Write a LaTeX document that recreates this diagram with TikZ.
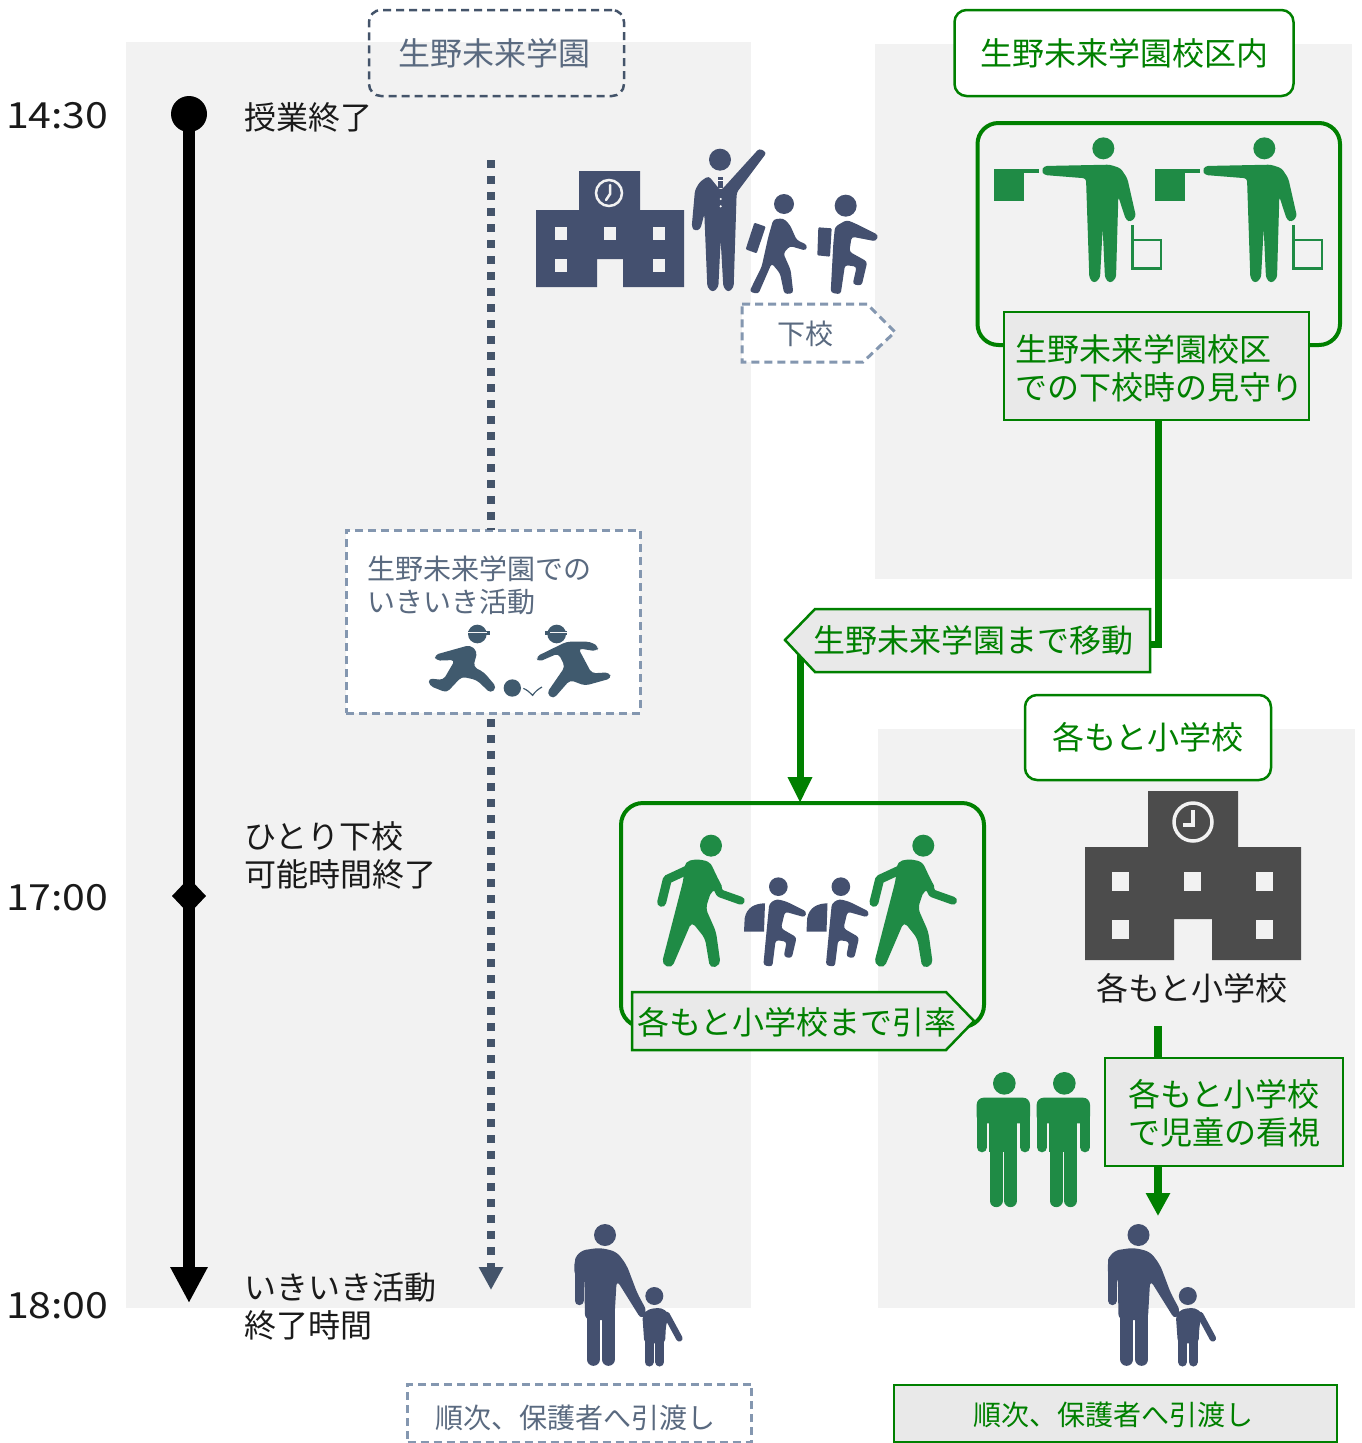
\documentclass[tikz,border=0pt]{standalone}
\usepackage{fontspec}
\setmainfont{Noto Sans CJK JP}
\newfontfamily\timefont[FakeStretch=1.14]{Noto Sans CJK JP}
\usetikzlibrary{arrows.meta,shapes.geometric}
\definecolor{panel}{HTML}{F2F2F2}
\definecolor{navy}{HTML}{44546A}
\definecolor{navytext}{HTML}{5A6A80}
\definecolor{dashc}{HTML}{8497B0}
\definecolor{gr}{HTML}{008000}
\definecolor{figgreen}{HTML}{1F8B45}
\definecolor{figblue}{HTML}{44506F}
\definecolor{kick}{HTML}{405A6E}
\definecolor{lab}{HTML}{E9E9E9}
\definecolor{inkk}{HTML}{1A1A1A}
\tikzset{
  every node/.style={inner sep=0pt,outer sep=0pt},
  lim/.style={line cap=round,line join=round},
  t32/.style={font=\fontsize{32}{38}\selectfont},
  t28/.style={font=\fontsize{28}{33}\selectfont},
  ttime/.style={font=\timefont\fontsize{36}{40}\selectfont,text=inkk,anchor=west},
  blk/.style={t32,text=inkk,align=left,anchor=west},
  dashbox/.style={draw=dashc,line width=3pt,dash pattern=on 8pt off 5pt},
  gline/.style={draw=gr,line width=7pt},
  grntext/.style={text=gr},
  navyt/.style={text=navytext}
}
\newcommand{\figFlag}[2]{\begin{scope}[shift={(#1,#2)},scale=0.33333]
 \fill[figgreen] (400,115) circle (33);
 \fill[figgreen,rounded corners=3pt] (215,182)--(222,168)--(420,164)--(452,175)--(472,205)--(498,320)--(482,336)--(468,330)--(445,260)--(438,505)--(420,520)--(405,505)--(398,355)--(390,505)--(372,520)--(358,505)--(348,205)--(222,195)--cycle;
 \fill[figgreen] (73,178) rectangle (163,272);
 \fill[figgreen] (163,178) rectangle (208,188);
 \draw[figgreen,line width=2.5pt] (487,345)--(487,475)--(573,475)--(573,390)--(487,390);
\end{scope}}
\newcommand{\figWalker}[2]{\begin{scope}[shift={(#1,#2)},scale=0.33333]
 \fill[figgreen] (303,167) circle (33);
 \draw[figgreen,lim,line width=9pt] (258,228)--(172,268)--(155,337);
 \draw[figgreen,lim,line width=8pt] (290,232)--(330,310)--(392,332);
 \fill[figgreen,rounded corners=5pt] (225,215)--(260,207)--(300,215)--(322,262)--(342,300)--(305,300)--(287,355)--(318,425)--(332,525)--(300,535)--(285,445)--(245,395)--(185,535)--(155,522)--(220,270)--cycle;
\end{scope}}
\newcommand{\figPack}[2]{\begin{scope}[shift={(#1,#2)},scale=0.33333]
 \fill[figblue] (505,290) circle (28);
 \fill[figblue] (402,425)--(404,385) .. controls (410,352) and (435,340) .. (465,340)--(462,425)--cycle;
 \fill[figblue,rounded corners=3pt] (478,340)--(500,327)--(530,335)--(590,365)--(585,382)--(525,365)--(513,415)--(560,442)--(545,505)--(521,500)--(530,455)--(497,450)--(487,530)--(460,526)--(470,420)--cycle;
\end{scope}}
\newcommand{\figGuard}[2]{\begin{scope}[shift={(#1,#2)},scale=0.33333]
 \fill[figgreen] (133,910) circle (34);
 \fill[figgreen,rounded corners=7pt] (50,1030)--(50,953)--(210,953)--(210,1030)--cycle;
 \draw[figgreen,lim,line width=10pt] (66,1000)--(66,1102);
 \draw[figgreen,lim,line width=10pt] (195,1000)--(195,1102);
 \fill[figgreen] (88,960) rectangle (172,1115);
 \draw[figgreen,lim,line width=13pt] (108,1110)--(108,1262);
 \draw[figgreen,lim,line width=13pt] (152,1110)--(152,1262);
\end{scope}}
\newcommand{\figParent}[2]{\begin{scope}[shift={(#1,#2)},scale=0.33333]
 \fill[figblue] (615,75) circle (33);
 \draw[figblue,lim,line width=9pt] (537,150)--(537,272);
 \fill[figblue,rounded corners=6pt] (523,150)--(540,122)--(600,113)--(650,125)--(680,165)--(712,250)--(742,305)--(725,330)--(650,210)--(643,330)--(555,330)--(553,200)--(523,200)--cycle;
 \draw[figblue,lim,line width=13pt] (580,300)--(580,448);
 \draw[figblue,lim,line width=13pt] (625,300)--(625,448);
 \fill[figblue] (763,258) circle (27);
 \fill[figblue,rounded corners=4pt] (727,315)--(745,297)--(785,293)--(808,312)--(798,345)--(795,400)--(733,400)--cycle;
 \draw[figblue,lim,line width=6.5pt] (800,315)--(838,385);
 \draw[figblue,lim,line width=9pt] (747,390)--(747,456);
 \draw[figblue,lim,line width=9pt] (779,390)--(779,456);
\end{scope}}
\begin{document}
\begin{tikzpicture}[x=1pt,y=-1pt]
\useasboundingbox (0,0) rectangle (1361,1443);
\fill[white] (0,0) rectangle (1361,1443);
% panels
\fill[panel] (126,42) rectangle (751,1308);
\fill[panel] (875,44) rectangle (1352,579);
\fill[panel] (878,729) rectangle (1355,1308);
% times
\node[ttime] (t1) at (6,116) {14:30};
\node[ttime] (t2) at (6,898) {17:00};
\node[ttime] (t3) at (6,1306) {18:00};
% timeline
\node[circle,fill=black,minimum size=36pt] (tlstart) at (189,114) {};
\node[diamond,fill=black,minimum width=34pt,minimum height=36pt] (tlmid) at (189,896) {};
\coordinate (tlend) at (189,1303);
\draw[line width=12pt,-{Triangle[width=35pt,length=36pt]}] (tlstart.center) -- (tlend);
\node[blk] (l1) at (244,117) {授業終了};
\node[blk] (l2) at (244,855) {ひとり下校\\可能時間終了};
\node[blk] (l3) at (244,1306) {いきいき活動\\終了時間};
% headers
\node[draw=navy,line width=2.5pt,dash pattern=on 8pt off 5pt,rounded corners=12pt,minimum width=255pt,minimum height=86pt,t32,navyt] (h1) at (496.5,53) {\hspace{-4pt}生野未来学園};
\node[draw=gr,line width=2.5pt,fill=white,rounded corners=12pt,minimum width=339pt,minimum height=86pt,t32,grntext] (h2) at (1124,53) {生野未来学園校区内};
\node[draw=gr,line width=2.5pt,fill=white,rounded corners=12pt,minimum width=246pt,minimum height=85pt,t32,grntext] (h3) at (1148,737.5) {各もと小学校};
% school 1
\fill[figblue] (536,287)--(536,210)--(579,210)--(579,171)--(640,171)--(640,210)--(684,210)--(684,287)--(623,287)--(623,259)--(597,259)--(597,287)--cycle;
\foreach \wx/\wy in {555/227,604/227,653/227,555/259,653/259}{\fill[panel] (\wx,\wy) rectangle ++(12,13);}
\draw[panel,line width=2.5pt] (609,193) circle (13);
\draw[panel,line width=2.5pt,line cap=round] (610,185)--(610,194)--(606,200);
% teacher and children (zoom frame)
\begin{scope}[shift={(520,130)},scale=0.33333]
 \fill[figblue] (600,89) circle (33);
 \fill[figblue,rounded corners=3pt] (566,138)--(602,182)--(618,165)--(718,55)--(740,68)--(650,188)--(641,472)--(625,487)--(610,472)--(602,330)--(595,472)--(578,487)--(562,472)--(553,252)--(541,298)--(525,303)--(515,292)--(525,180)--(540,155)--cycle;
 \fill[figblue] (595,140) rectangle (610,175);
 \fill[white] (595,150) rectangle (610,153);
 \fill[white] (602,207) circle (3.5);
 \fill[white] (602,229) circle (3.5);
 % child with case
 \fill[figblue] (792,222) circle (30);
 \fill[figblue,rounded corners=3pt] (760,268)--(790,265)--(810,285)--(830,330)--(862,345)--(858,362)--(810,348)--(790,370)--(812,420)--(820,490)--(793,492)--(780,430)--(755,400)--(715,492)--(688,485)--(725,410)--(745,320)--cycle;
 \fill[figblue,rounded corners=1pt] (703,278)--(737,290)--(710,370)--(677,358)--cycle;
 % second child
 \fill[figblue] (977,227) circle (33);
 \fill[figblue,rounded corners=3pt] (945,290)--(980,270)--(1005,280)--(1075,315)--(1068,334)--(995,320)--(988,365)--(1042,395)--(1025,467)--(998,463)--(1010,410)--(975,405)--(962,493)--(932,488)--(940,340)--cycle;
 \fill[figblue,rounded corners=1pt] (895,292)--(935,295)--(930,380)--(892,376)--cycle;
\end{scope}
% geko tag
\fill[white] (742,304)--(867,304)--(895,332)--(863,362)--(742,362)--cycle;
\draw[dashbox] (742,304)--(867,304)--(895,332)--(863,362)--(742,362)--cycle;
\node[t28,navyt] (geko) at (805,334) {下校};
% activity box
\node[dashbox,fill=white,minimum width=294pt,minimum height=183pt] (act) at (493,621.5) {};
\coordinate (dot1) at (491,160);
\coordinate (dot2) at (491,1290);
\draw[navy,line width=8pt,dash pattern=on 8pt off 8pt] (dot1) -- (dot1 |- act.north);
\draw[navy,line width=8pt,dash pattern=on 8pt off 8pt,-{Triangle[width=23pt,length=23pt]}] ([yshift=-6pt]dot2 |- act.south) -- (dot2);
\node[t28,navyt,align=left,anchor=west] (acttext) at (367,585) {生野未来学園での\\いきいき活動};
\begin{scope}[shift={(340,510)},scale=0.33333]
 \fill[kick] (412,372) circle (28);
 \fill[kick] (385,364) rectangle (451,374);
 \fill[panel!60!white] (385,367) rectangle (440,370);
 \fill[kick,rounded corners=4pt] (283,435)--(390,405)--(412,425)--(400,470)--(432,487)--(470,532)--(452,550)--(410,510)--(365,500)--(320,548)--(268,527)--(265,505)--(310,510)--(345,450)--(288,452)--cycle;
 \fill[kick] (650,372) circle (28);
 \fill[kick] (615,364) rectangle (680,374);
 \fill[panel!60!white] (630,367) rectangle (680,370);
 \fill[kick,rounded corners=4pt] (588,440)--(680,395)--(750,395)--(777,410)--(770,424)--(715,415)--(755,490)--(808,487)--(814,505)--(735,527)--(690,510)--(640,567)--(620,550)--(675,470)--(655,430)--(595,456)--cycle;
 \fill[kick] (517,534) circle (26);
 \draw[kick,line width=1.2pt] (550,535) .. controls (562,540) and (570,548) .. (578,556) .. controls (585,545) and (595,537) .. (606,531);
\end{scope}
% flagmen
\figFlag{970}{110}
\figFlag{1131}{110}
\draw[gr,line width=4pt,rounded corners=21pt] (977.5,123) rectangle (1340,345);
\node[draw=gr,line width=2.5pt,fill=lab,minimum width=305pt,minimum height=108pt] (watch) at (1156.5,366) {};
\node[t32,grntext,align=left,anchor=west] (watchtext) at (1015,368) {生野未来学園校区\\での下校時の見守り};
% group and connector into it, under the move tag
\node[draw=gr,line width=4pt,rounded corners=22pt,minimum width=363pt,minimum height=224pt] (group) at (802.5,915) {};
\coordinate (mv) at (800,655);
\draw[gline,-{Triangle[width=23pt,length=26pt]}] (mv) -- (mv |- group.north);
% move tag
\draw[gr,line width=2.5pt,fill=lab] (785,640)--(815,609)--(1150,609)--(1150,672)--(815,672)--cycle;
\node[minimum width=335pt,minimum height=63pt] (move) at (982.5,640.5) {};
\node[t32,grntext] (movetext) at (973,640) {生野未来学園まで移動};
\coordinate (bendb) at (1158,644);
\draw[gline,line join=miter] ([xshift=1.5pt]watch.south) -- (bendb) -- (move.east |- bendb);
\figWalker{610}{790}
\figWalker{822.3}{790}
\figPack{610}{790}
\figPack{672.5}{790}
\draw[gr,line width=2.5pt,fill=lab] (632,992)--(946,992)--(974,1021)--(946,1050)--(632,1050)--cycle;
\node[t32,grntext] (grouptext) at (797,1022) {各もと小学校まで引率};
% school 2
\fill[black!70] (1085,960)--(1085,847)--(1148,847)--(1148,791)--(1238,791)--(1238,847)--(1301,847)--(1301,960)--(1212,960)--(1212,919)--(1174,919)--(1174,960)--cycle;
\foreach \wx/\wy in {1112/872,1184/872,1256/872,1112/920,1256/920}{\fill[panel] (\wx,\wy) rectangle ++(17,18.5);}
\draw[panel,line width=3.5pt] (1193,822) circle (19);
\draw[panel,line width=3.5pt] (1193,810)--(1193,825)--(1183,825);
\node[t32,text=inkk] (school) at (1192,988) {各もと小学校};
% guards
\figGuard{960}{780}
\figGuard{1020}{780}
\node[draw=gr,line width=2.5pt,fill=lab,minimum width=238pt,minimum height=108pt] (mon) at (1224,1112) {};
\node[t32,grntext,align=left,anchor=west] (montext) at (1128,1113) {各もと小学校\\で児童の看視};
\coordinate (ms) at (1158,1026);
\coordinate (me) at (1158,1216);
\draw[gr,line width=8pt] (ms) -- (ms |- mon.north);
\draw[gr,line width=8pt,-{Triangle[width=23pt,length=23pt]}] (me |- mon.south) -- (me);
% parents
\figParent{400}{1210}
\figParent{933.5}{1210}
% bottom labels
\node[dashbox,minimum width=344pt,minimum height=58pt] (hand1) at (579.5,1413) {};
\node[t28,navyt] (hand1t) at (575,1418) {順次、保護者へ引渡し};
\node[draw=gr,line width=2.5pt,fill=lab,minimum width=443pt,minimum height=57pt] (hand2) at (1115.5,1413.5) {};
\node[t28,grntext] (hand2t) at (1113,1415) {順次、保護者へ引渡し};
\end{tikzpicture}
\end{document}
